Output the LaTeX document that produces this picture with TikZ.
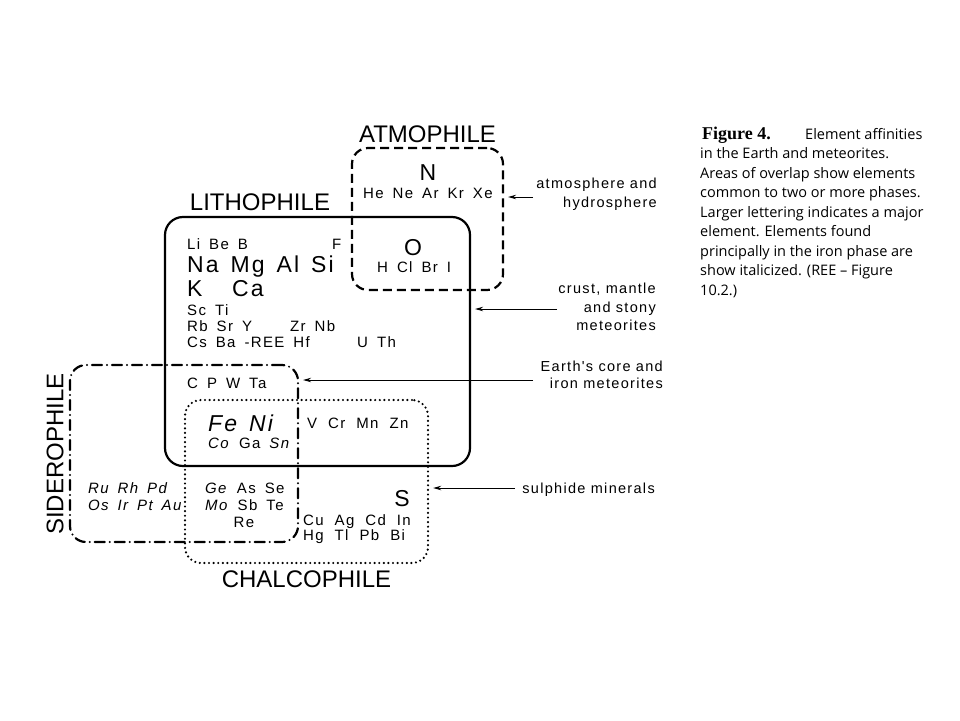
\documentclass[tikz,border=0pt]{standalone}
\usepackage{fontspec}
\setmainfont{Liberation Sans}
\newfontfamily\elemfont{Liberation Sans}[LetterSpace=9]
\newfontfamily\capfont{Open Sans}
\newfontfamily\figfont{Liberation Serif}
\usetikzlibrary{arrows.meta,positioning,calc}

\newcommand\elemsize{\elemfont\fontsize{15}{15}\selectfont\spaceskip 9pt\relax}
\newcommand\elemwidesize{\elemfont\fontsize{15}{15}\selectfont\spaceskip 11pt\relax}
\newcommand\bigelemsize{\elemfont\fontsize{23}{23}\selectfont\spaceskip 12pt\relax}
\newcommand\notesize{\elemfont\fontsize{14.5}{14.5}\selectfont}

\begin{document}
\begin{tikzpicture}[x=1pt, y=-1pt,
    phase/.style={rectangle, draw, rounded corners=16pt, line width=2.2pt, inner sep=0pt},
    phaselabel/.style={inner sep=0pt, font=\fontsize{24}{24}\selectfont},
    elem/.style={inner sep=0pt, anchor=base west, font=\elemsize},
    elemwide/.style={inner sep=0pt, anchor=base west, font=\elemwidesize},
    bigelem/.style={inner sep=0pt, anchor=base west, font=\bigelemsize},
    note/.style={inner sep=0pt, anchor=base east, font=\notesize},
    caption/.style={inner sep=0pt, anchor=base west, font=\capfont\fontsize{14.5}{14.5}\selectfont},
    arrow/.style={-{Stealth[length=8pt,width=4.5pt]}, line width=0.9pt, shorten >=4pt}]
    \useasboundingbox (0,0) rectangle (960,720);

    % Phase regions
    \node[phase, minimum width=151pt, minimum height=142pt, dash pattern=on 9pt off 5pt] (atmo) at (427.5,219) {};
    \node[phase, minimum width=305pt, minimum height=249pt, rounded corners=18pt] (litho) at (317.5,341.5) {};
    \node[phase, minimum width=228pt, minimum height=177pt, line cap=round, dash pattern=on 10pt off 5pt on 0pt off 5pt] (sidero) at (184,453.5) {};
    \node[phase, minimum width=243pt, minimum height=163pt, line width=2.4pt, line cap=round, dash pattern=on 0pt off 4.6pt] (chalco) at (306.5,481.5) {};

    % Phase names
    \node[phaselabel, above=4pt of atmo] (atmolbl) {ATMOPHILE};
    \node[phaselabel] (litholbl) at (260,202) {LITHOPHILE};
    \node[phaselabel, rotate=90] (siderolbl) at (55,454) {SIDEROPHILE};
    \node[phaselabel, below=6pt of chalco] (chalcolbl) {CHALCOPHILE};

    % Atmophile elements
    \node[bigelem, anchor=base] (n) at (428,180) {N};
    \node[elem] (he) at (363,198) {He Ne Ar Kr Xe};
    \node[bigelem, anchor=base] (o) at (413,255) {O};
    \node[elem] (hcl) at (377,272) {H Cl Br I};

    % Lithophile elements
    \node[elem] (li) at (187,249) {Li Be B};
    \node[elem] (f) at (332,249) {F};
    \node[bigelem] (na) at (187,272) {Na Mg Al Si};
    \node[bigelem] (k) at (187,296) {K};
    \node[bigelem] (ca) at (232,296) {Ca};
    \node[elem] (sc) at (187,315) {Sc Ti};
    \node[elem] (rb) at (187,331) {Rb Sr Y};
    \node[elem] (zr) at (290,331) {Zr Nb};
    \node[elem] (cs) at (187,347) {Cs Ba -REE Hf};
    \node[elem] (u) at (357,347) {U Th};

    % Siderophile and chalcophile elements
    \node[elem] (cpw) at (187,388) {C P W Ta};
    \node[bigelem] (feni) at (208,431) {\itshape Fe Ni};
    \node[elem] (co) at (208,448) {\textit{Co} Ga \textit{Sn}};
    \node[elemwide] (vcr) at (307,428) {V Cr Mn Zn};
    \node[elem] (ru) at (88,493) {\itshape Ru Rh Pd};
    \node[elem] (os) at (88,510) {\itshape Os Ir Pt Au};
    \node[elem] (ge) at (205,493) {\textit{Ge} As Se};
    \node[elem] (mo) at (205,510) {\textit{Mo} Sb Te};
    \node[elem, anchor=base] (re) at (244,527) {Re};
    \node[bigelem, anchor=base] (s) at (402,506) {S};
    \node[elemwide] (cu) at (303,525) {Cu Ag Cd In};
    \node[elemwide] (hg) at (303,540) {Hg Tl Pb Bi};

    % Notes on the right
    \node[note] (atmnote1) at (657,188) {atmosphere and};
    \node[note] (atmnote2) at (657,207) {hydrosphere};
    \node[note] (crustnote1) at (656,293) {crust, mantle};
    \node[note] (crustnote2) at (656,312) {and stony};
    \node[note] (crustnote3) at (656,330) {meteorites};
    \node[note] (corenote1) at (663,371) {Earth's core and};
    \node[note] (corenote2) at (663,388) {iron meteorites};
    \node[note] (sulnote) at (655,493) {sulphide minerals};

    % Arrows
    \coordinate (atmtail) at (533,197);
    \coordinate (crusttail) at (557,309);
    \coordinate (coretail) at (533,380);
    \coordinate (sultail) at (515,488);
    \draw[arrow] (atmtail) -- (atmtail -| atmo.east);
    \draw[arrow] (crusttail) -- (crusttail -| litho.east);
    \draw[arrow] (coretail) -- (coretail -| sidero.east);
    \draw[arrow] (sultail) -- (sultail -| chalco.east);

    % Caption
    \node[inner sep=0pt, anchor=base west, font=\figfont\bfseries\fontsize{18}{18}\selectfont] (fig) at (702,139) {Figure 4.};
    \node[caption] (cap0) at (805,139) {Element affinities};
    \foreach \txt [count=\i] in {{in the Earth and meteorites.}, {Areas of overlap show elements},
        {common to two or more phases.}, {Larger lettering indicates a major},
        {element. Elements found}, {principally in the iron phase are},
        {show italicized. (REE – Figure}, {10.2.)}}
        \node[caption] (cap\i) at (700,{139+19.5*\i}) {\txt};
\end{tikzpicture}
\end{document}
